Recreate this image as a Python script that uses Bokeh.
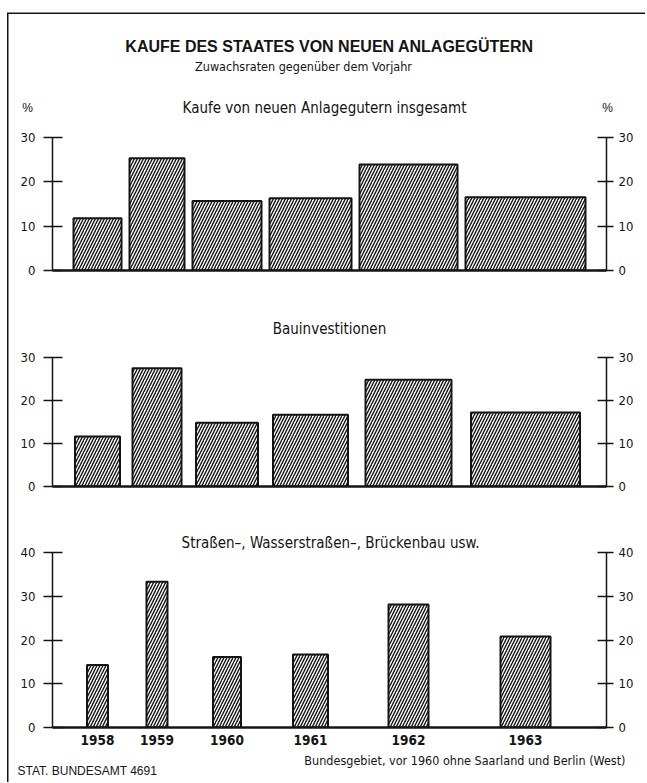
from bokeh.plotting import figure
from bokeh.models import Range1d, LinearAxis, FixedTicker, ColumnDataSource
from bokeh.core.properties import value
from bokeh.layouts import column
from bokeh.embed import file_html
from bokeh.resources import INLINE

# ---------------- data ----------------
years = ["1958", "1959", "1960", "1961", "1962", "1963"]

# growth rates against previous year, %
total_growth = [11.8, 25.3, 15.7, 16.3, 23.9, 16.5]
bau_growth = [11.6, 27.5, 14.8, 16.7, 24.8, 17.2]
strassen_growth = [14.3, 33.3, 16.1, 16.7, 28.1, 20.8]

# bar widths (proportional to the absolute volume of each year)
total_volume = [48, 55, 69, 82, 98, 120]
bau_volume = [45, 49, 62, 75, 86, 109]
strassen_volume = [21, 21, 28, 35, 40, 50]

ticks_30 = [0, 10, 20, 30]
ticks_40 = [0, 10, 20, 30, 40]

title = "KAUFE DES STAATES VON NEUEN ANLAGEGÜTERN"
subtitle = "Zuwachsraten gegenüber dem Vorjahr"
panel_titles = ["Kaufe von neuen Anlagegutern insgesamt",
                "Bauinvestitionen",
                "Straßen–, Wasserstraßen–, Brückenbau usw."]
source_note = "STAT. BUNDESAMT 4691"
area_note = "Bundesgebiet, vor 1960 ohne Saarland und Berlin (West)"

# ---------------- layout constants ----------------
W = 645
FL = 52           # left edge of the plotting frame (px)
FW = 554          # frame width (px), 1 x-unit = 1 px
FR = W - FL - FW
COND = "DejaVu Sans Condensed"
SANS = "Liberation Sans"
INK = "#141414"

# bar centres follow the widths of the total bars, laid side by side
centers = []
pos = 21
for w in total_volume:
    centers.append(pos + w / 2)
    pos += w + 8


def text(p, xs, ys, texts, font, size, align="center", style="normal"):
    p.text(x=xs, y=ys, text=texts, text_font=value(font), text_font_size=value(size),
           text_font_style=style, text_align=align, text_baseline="middle",
           text_color=INK)


def sheet(h):
    """Axis-less strip whose data coordinates equal its pixels (y downward)."""
    p = figure(width=W, height=h, x_range=Range1d(0, W), y_range=Range1d(h, 0),
               x_axis_type=None, y_axis_type=None, output_backend="svg",
               toolbar_location=None, min_border=0, outline_line_color=None,
               background_fill_color=None, border_fill_color=None,
               frame_align=False)
    return p


def make_panel(values, widths, ymax, ticks, top, pad, frame_h, bottom, show_years):
    """pad: empty frame space (px) above the top tick, used for the panel title."""
    h = top + pad + frame_h + bottom
    y_end = ymax * (pad + frame_h) / frame_h
    p = figure(width=W, height=h, x_range=Range1d(0, FW), y_range=Range1d(0, y_end),
               x_axis_type=None, y_axis_type=None, output_backend="svg",
               toolbar_location=None, min_border_left=FL, min_border_right=FR,
               min_border_top=top, min_border_bottom=bottom,
               outline_line_color=None, background_fill_color="white",
               border_fill_color=None)
    src = ColumnDataSource(dict(x=centers, w=widths, top=values))
    p.vbar(x="x", width="w", top="top", bottom=0, source=src,
           fill_color="white", line_color=INK, line_width=2,
           hatch_pattern="/", hatch_color=INK, hatch_scale=6, hatch_weight=1.4)

    common = dict(ticker=FixedTicker(ticks=ticks), bounds=(0, ymax),
                  axis_line_color=INK, axis_line_width=1.5,
                  major_tick_line_color=INK, major_tick_line_width=1.3,
                  minor_tick_line_color=None, major_label_text_font=COND,
                  major_label_text_font_size="13px", major_label_text_color=INK)
    p.add_layout(LinearAxis(major_tick_in=10, major_tick_out=9,
                            major_label_standoff=8, **common), "left")
    p.add_layout(LinearAxis(major_tick_in=9, major_tick_out=7,
                            major_label_standoff=5, **common), "right")

    if show_years:
        bottom_axis = LinearAxis(
            ticker=FixedTicker(ticks=centers),
            major_label_overrides={c: y for c, y in zip(centers, years)},
            major_tick_line_color=None, major_tick_in=0, major_tick_out=0,
            minor_tick_line_color=None, major_label_standoff=7,
            major_label_text_font=COND, major_label_text_font_size="13.5px",
            major_label_text_font_style="bold", major_label_text_color=INK,
            axis_line_color=INK, axis_line_width=2.5)
    else:
        bottom_axis = LinearAxis(
            ticker=FixedTicker(ticks=[]), major_tick_line_color=None,
            major_tick_in=0, major_tick_out=0, minor_tick_line_color=None,
            major_label_text_font_size="0px", axis_line_color=INK,
            axis_line_width=2.5)
    p.add_layout(bottom_axis, "below")
    p.tags = [ymax / frame_h]   # data units per pixel
    return p


def panel_title(p, px_above_base, txt, x_center):
    upp = p.tags[0]
    text(p, [x_center - FL], [px_above_base * upp], [txt], COND, "15px")


# page strips: header 0-122, panel 1 122-290, panel 2 290-500,
# panel 3 500-751, footer 751-782
header = sheet(122)
text(header, [329], [46], [title], SANS, "16px", style="bold")
text(header, [303], [66], [subtitle], COND, "12.5px")
text(header, [324], [107], [panel_titles[0]], COND, "15px")
text(header, [27, 607], [107, 107], ["%", "%"], SANS, "12px")

p1 = make_panel(total_growth, total_volume, 30, ticks_30, 15, 0, 133, 20, False)

p2 = make_panel(bau_growth, bau_volume, 30, ticks_30, 0, 67, 129, 14, False)
panel_title(p2, 486 - 328, panel_titles[1], 329)

p3 = make_panel(strassen_growth, strassen_volume, 40, ticks_40, 0, 52, 175, 24, True)
panel_title(p3, 727 - 542, panel_titles[2], 330)

footer = sheet(31)
text(footer, [17], [19], [source_note], SANS, "12px", align="left")
text(footer, [625], [9], [area_note], COND, "12.5px", align="right")

layout = column(header, p1, p2, p3, footer, styles={
    "box-shadow": "inset 7px 12.5px 0 0 white, inset 8.5px 14px 0 0 #141414",
    "background-color": "white"})
open("out.html", "w").write(file_html(layout, INLINE))
